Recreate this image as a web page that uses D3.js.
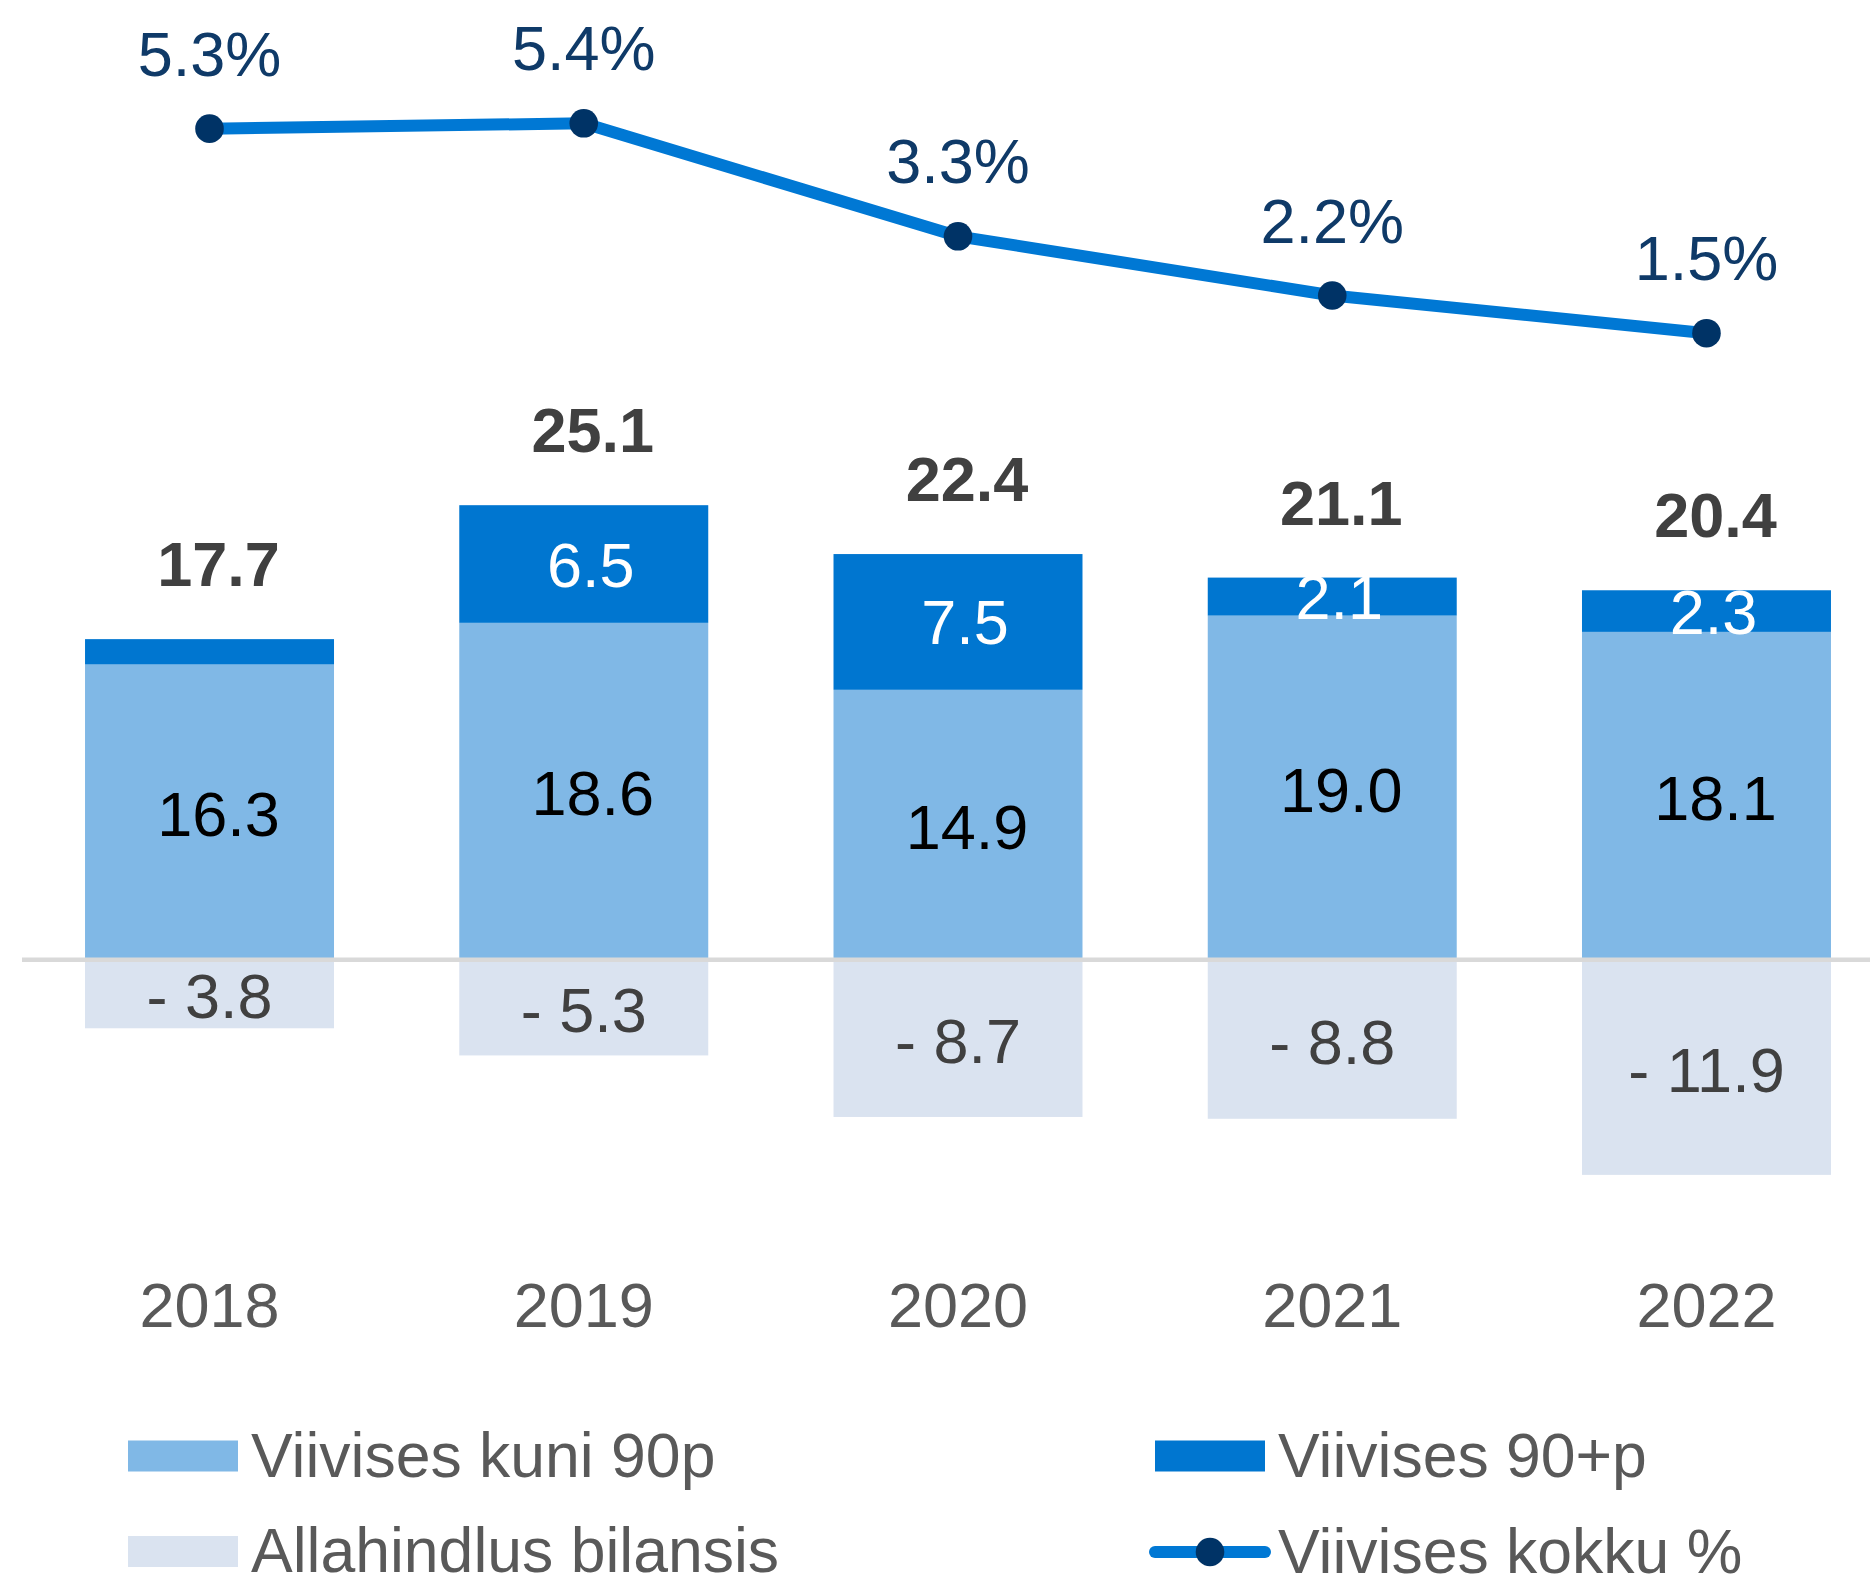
<!DOCTYPE html>
<html>
<head>
<meta charset="utf-8">
<script src="https://cdn.jsdelivr.net/npm/d3@7"></script>
<style>
  html, body { margin: 0; padding: 0; background: #fff; }
  svg { display: block; }
  text { font-family: "Liberation Sans", Arial, sans-serif; }
</style>
</head>
<body>
<svg id="chart" width="1870" height="1580"></svg>
<script>
// ---- data ----
const years = ["2018", "2019", "2020", "2021", "2022"];
const upTo90 = [16.3, 18.6, 14.9, 19.0, 18.1];        // Viivises kuni 90p
const over90 = [1.4, 6.5, 7.5, 2.1, 2.3];             // Viivises 90+p
const allowance = [-3.8, -5.3, -8.7, -8.8, -11.9];     // Allahindlus bilansis
const overduePct = [5.3, 5.4, 3.3, 2.2, 1.5];          // Viivises kokku %
const legendNames = ["Viivises kuni 90p", "Viivises 90+p", "Allahindlus bilansis", "Viivises kokku %"];

// ---- styles ----
const C = {
  light: "#80B8E6",
  dark: "#0076D0",
  neg: "#DAE3F0",
  line: "#0078D4",
  marker: "#003366",
  pctText: "#0F3A68",
  total: "#404040",
  negText: "#404040",
  axisText: "#595959",
  axis: "#D9D9D9"
};
const FS = 63;
const FS_LEGEND = 62.5;

const W = 1870, H = 1580;
const svg = d3.select("#chart");

const x = d3.scaleBand().domain(years).range([22.4, 1893.6]).paddingInner(0.3347).paddingOuter(0.16735);
const y = d3.scaleLinear().domain([-14, 28]).range([959.5 + 14 * 18.1, 959.5 - 28 * 18.1]);
const yp = d3.scaleLinear().domain([0, 6]).range([413.9, 91.0]);

const rows = years.map((yr, i) => ({
  year: yr, a: upTo90[i], b: over90[i], n: allowance[i], p: overduePct[i], total: upTo90[i] + over90[i]
}));

const bw = x.bandwidth();
const cx = d => x(d.year) + bw / 2;

// negative bars
svg.append("g").selectAll("rect").data(rows).join("rect")
  .attr("x", d => x(d.year)).attr("width", bw)
  .attr("y", y(0)).attr("height", d => y(d.n) - y(0))
  .attr("fill", C.neg);

// light bars
svg.append("g").selectAll("rect").data(rows).join("rect")
  .attr("x", d => x(d.year)).attr("width", bw)
  .attr("y", d => y(d.a)).attr("height", d => y(0) - y(d.a))
  .attr("fill", C.light);

// dark bars
svg.append("g").selectAll("rect").data(rows).join("rect")
  .attr("x", d => x(d.year)).attr("width", bw)
  .attr("y", d => y(d.a + d.b)).attr("height", d => y(d.a) - y(d.a + d.b))
  .attr("fill", C.dark);

// zero line
svg.append("line")
  .attr("x1", 22).attr("x2", W)
  .attr("y1", y(0) + 0.3).attr("y2", y(0) + 0.3)
  .attr("stroke", C.axis).attr("stroke-width", 4.5);

// labels inside light bars
svg.append("g").selectAll("text").data(rows).join("text")
  .attr("x", d => cx(d) + 9).attr("y", d => (y(d.a) + y(0)) / 2 + 24)
  .attr("text-anchor", "middle").attr("font-size", FS).attr("fill", "#000")
  .text(d => d.a.toFixed(1));

// labels inside dark bars (only when segment is tall enough)
svg.append("g").selectAll("text").data(rows.filter(d => d.b >= 2)).join("text")
  .attr("x", d => cx(d) + 7).attr("y", d => (y(d.a) + y(d.a + d.b)) / 2 + 22.5)
  .attr("text-anchor", "middle").attr("font-size", FS).attr("fill", "#fff")
  .text(d => d.b.toFixed(1));

// negative labels
svg.append("g").selectAll("text").data(rows).join("text")
  .attr("x", cx).attr("y", d => (y(d.n) + y(0)) / 2 + 24.5)
  .attr("text-anchor", "middle").attr("font-size", FS).attr("fill", C.negText)
  .text(d => "- " + Math.abs(d.n).toFixed(1));

// totals
svg.append("g").selectAll("text").data(rows).join("text")
  .attr("x", d => cx(d) + 9).attr("y", d => y(d.total) - 53)
  .attr("text-anchor", "middle").attr("font-size", FS).attr("font-weight", "bold").attr("fill", C.total)
  .text(d => d.total.toFixed(1));

// x axis labels
const xAxis = d3.axisBottom(x).tickSize(0).tickPadding(0);
const gx = svg.append("g").attr("transform", "translate(0,1327)").call(xAxis);
gx.select(".domain").remove();
gx.selectAll("text")
  .attr("dy", 0).attr("y", 0)
  .attr("font-size", FS).attr("fill", C.axisText)
  .style("font-family", '"Liberation Sans", Arial, sans-serif');

// percent line
const line = d3.line().x(cx).y(d => yp(d.p));
svg.append("path").datum(rows)
  .attr("d", line).attr("fill", "none")
  .attr("stroke", C.line).attr("stroke-width", 12).attr("stroke-linejoin", "round");
svg.append("g").selectAll("circle").data(rows).join("circle")
  .attr("cx", cx).attr("cy", d => yp(d.p)).attr("r", 14.3)
  .attr("fill", C.marker);
svg.append("g").selectAll("text").data(rows).join("text")
  .attr("x", cx).attr("y", d => yp(d.p) - 53)
  .attr("text-anchor", "middle").attr("font-size", FS).attr("fill", C.pctText)
  .text(d => d.p.toFixed(1) + "%");

// legend
const lg = svg.append("g");
const legendItems = [
  { name: legendNames[0], type: "rect", color: C.light, sx: 128, cy: 1456 },
  { name: legendNames[1], type: "rect", color: C.dark, sx: 1155, cy: 1456 },
  { name: legendNames[2], type: "rect", color: C.neg, sx: 128, cy: 1551.5 },
  { name: legendNames[3], type: "line", color: C.line, sx: 1155, cy: 1552 }
];
legendItems.forEach(it => {
  if (it.type === "rect") {
    lg.append("rect").attr("x", it.sx).attr("y", it.cy - 15.5).attr("width", 110).attr("height", 31).attr("fill", it.color);
  } else {
    lg.append("line").attr("x1", it.sx).attr("x2", it.sx + 110).attr("y1", it.cy).attr("y2", it.cy)
      .attr("stroke", it.color).attr("stroke-width", 12).attr("stroke-linecap", "round");
    lg.append("circle").attr("cx", it.sx + 55).attr("cy", it.cy).attr("r", 14.3).attr("fill", C.marker);
  }
  lg.append("text").attr("x", it.sx + 123).attr("y", it.cy + 20.5)
    .attr("font-size", FS_LEGEND).attr("fill", C.axisText).text(it.name);
});
</script>
</body>
</html>
